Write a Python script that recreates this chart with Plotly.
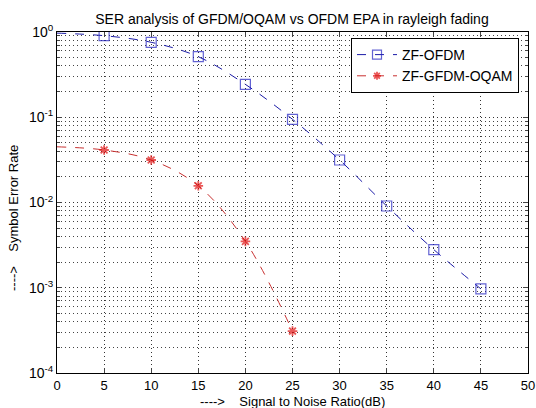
import plotly.graph_objects as go

snr = [0, 5, 10, 15, 20, 25, 30, 35, 40, 45]
ser_ofdm = [0.97, 0.905, 0.757, 0.513, 0.243, 0.0946, 0.0315, 0.0091, 0.0028, 0.00097]
snr_gfdm = [0, 5, 10, 15, 20, 25]
ser_gfdm = [0.045, 0.0413, 0.0315, 0.0157, 0.0035, 0.00031]

ytickvals = [1e-4, 1e-3, 1e-2, 1e-1, 1]
yticktext = ["10<sup>-4</sup>", "10<sup>-3</sup>", "10<sup>-2</sup>", "10<sup>-1</sup>", "10<sup>0</sup>"]
xtickvals = [0, 5, 10, 15, 20, 25, 30, 35, 40, 45, 50]

font = "Liberation Sans, Arial, sans-serif"

W, H = 536, 408
L, R, T, B = 57, 8, 32, 35
pw, ph = W - L - R, H - T - B


def px(x):
    return (x - L) / pw


def py(y):
    return (H - B - y) / ph


fig = go.Figure()
fig.add_trace(go.Scatter(
    x=snr, y=ser_ofdm, name="ZF-OFDM", mode="lines+markers",
    line=dict(color="#1c1ca8", width=1, dash="dash", shape="spline"),
    marker=dict(symbol="square-open", size=[0] + [10] * (len(snr) - 1),
                color="#2020c0", line=dict(width=1.2, color="#2020c0")),
))
fig.add_trace(go.Scatter(
    x=snr_gfdm, y=ser_gfdm, name="ZF-GFDM-OQAM", mode="lines+markers",
    line=dict(color="#c83030", width=1, dash="dash", shape="spline"),
    marker=dict(symbol="asterisk-open", size=[0] + [8] * (len(snr_gfdm) - 1),
                color="#e01010", line=dict(width=1.8, color="#e01010")),
))

grid_dash = "1px,3px"

fig.update_layout(
    width=W, height=H,
    margin=dict(l=L, r=R, t=T, b=B),
    paper_bgcolor="white", plot_bgcolor="white",
    font=dict(family=font, size=13, color="black"),
    title=dict(text="SER analysis of GFDM/OQAM vs OFDM EPA in rayleigh fading",
               x=292 / W, xanchor="center", xref="container",
               y=1 - 19 / H, yanchor="middle", yref="container",
               font=dict(size=14)),
    showlegend=True,
    legend=dict(x=px(351), y=py(38), xanchor="left", yanchor="top",
                bgcolor="white", bordercolor="black", borderwidth=1,
                font=dict(size=14), tracegroupgap=0, itemwidth=40),
    xaxis=dict(range=[0, 50], tickvals=xtickvals, showgrid=True,
               gridcolor="#333333", griddash=grid_dash, gridwidth=1,
               ticks="inside", ticklen=5, mirror="ticks", showline=True,
               linecolor="black", linewidth=1, zeroline=False,
               tickfont=dict(size=13), automargin=False),
    yaxis=dict(type="log", range=[-4, 0], tickvals=ytickvals, ticktext=yticktext,
               showgrid=True, gridcolor="#333333", griddash=grid_dash, gridwidth=1,
               ticks="inside", ticklen=5, mirror="ticks", showline=True,
               linecolor="black", linewidth=1, zeroline=False,
               tickfont=dict(size=14), automargin=False,
               minor=dict(showgrid=True, gridcolor="#444444", griddash=grid_dash,
                          gridwidth=1, ticks="inside", ticklen=3,
                          dtick="D1")),
    annotations=[
        dict(text="---->    Signal to Noise Ratio(dB)", xref="paper", yref="paper",
             x=px(292), y=py(401), xanchor="center", yanchor="middle",
             showarrow=False, font=dict(size=13)),
        dict(text="---->    Symbol Error Rate", xref="paper", yref="paper",
             x=px(13), y=py(218), xanchor="center", yanchor="middle",
             textangle=-90, showarrow=False, font=dict(size=13)),
    ],
)

fig.write_html("out.html", config={"displayModeBar": False},
               post_script="document.body.style.margin='0';document.body.style.overflow='hidden';")
